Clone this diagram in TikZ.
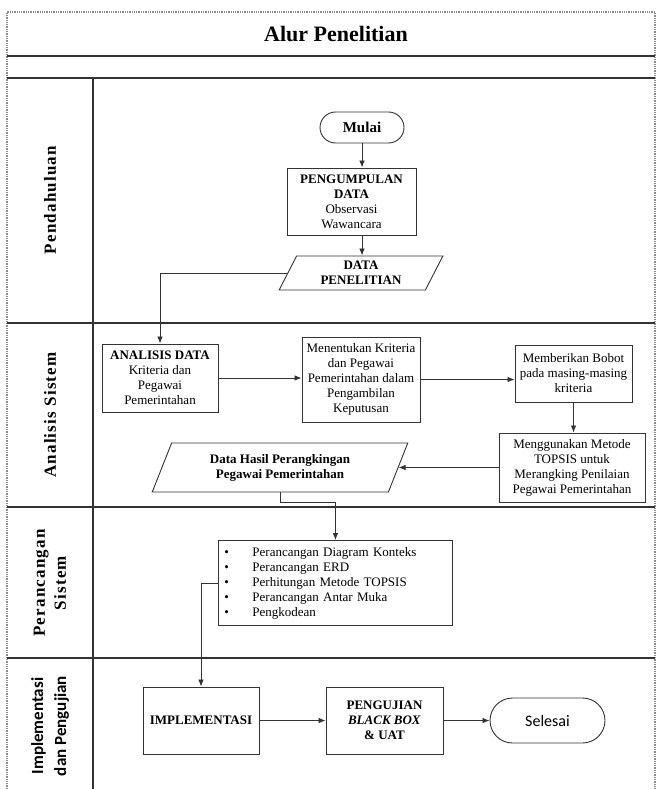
\documentclass[tikz,border=0pt]{standalone}
\usepackage{fontspec}
\setmainfont{Liberation Serif}
\newfontfamily\calfont{Carlito}
\newfontfamily\lanefont[LetterSpace=7]{Liberation Serif}
\usetikzlibrary{shapes.geometric,arrows.meta}
\newcommand\bodyfs{\fontsize{13}{15}\selectfont}
\begin{document}
\begin{tikzpicture}[x=1pt,y=-1pt,
  box/.style={draw=black!80, line width=0.9pt, align=center, inner sep=1pt, font=\bodyfs},
  para/.style={box, trapezium, trapezium left angle=65, trapezium right angle=115, trapezium stretches=true},
  term/.style={box},
  arr/.style={draw=black!80, line width=0.8pt, -{Latex[length=7pt,width=5.5pt]}},
  lane/.style={draw=black!80, line width=1.1pt},
  frame/.style={draw=black!45, line width=1.3pt, densely dotted},
  lanelabel/.style={rotate=90, align=center, font=\lanefont\bfseries\fontsize{17}{21}\selectfont},
]
\useasboundingbox (0,0) rectangle (657,789);
\fill[white] (0,0) rectangle (657,789);
% frame
\draw[frame] (7,789) -- (7,12) -- (655,12) -- (655,789);
\draw[lane] (7,56) -- (655,56);
\draw[lane] (7,78) -- (655,78);
\draw[lane] (93,78) -- (93,789);
\draw[lane] (7,323) -- (655,323);
\draw[lane] (7,507) -- (655,507);
\draw[lane] (7,658) -- (655,658);
% title
\node (title) at (336,34) {\fontsize{22}{26}\selectfont\bfseries Alur Penelitian};
% lane labels
\node[lanelabel] (l1) at (50,200) {Pendahuluan};
\node[lanelabel] (l2) at (50,415) {Analisis Sistem};
\node[lanelabel] (l3) at (50,583) {Perancangan\\Sistem};
\node[rotate=90, align=center, font=\calfont\bfseries\fontsize{17}{23}\selectfont] (l4) at (50,726) {Implementasi\\dan Pengujian};
% nodes
\node[term, rounded corners=15.5pt, minimum width=84pt, minimum height=31pt, font=\bfseries\fontsize{15}{18}\selectfont] (mulai) at (362,127.5) {Mulai};
\node[box, minimum width=129pt, minimum height=67pt] (peng) at (351.5,201.5) {\textbf{PENGUMPULAN}\\\textbf{DATA}\\Observasi\\Wawancara};
\node[para, minimum width=164pt, minimum height=34pt, inner sep=0pt, font=\bodyfs\bfseries] (dp) at (361,273) {DATA\\PENELITIAN};
\node[box, minimum width=116pt, minimum height=68pt] (an) at (160,378) {\textbf{ANALISIS DATA}\\Kriteria dan\\Pegawai\\Pemerintahan};
\node[box, minimum width=118pt, minimum height=85pt] (men) at (361,379.5) {Menentukan Kriteria\\dan Pegawai\\Pemerintahan dalam\\Pengambilan\\Keputusan};
\node[box, minimum width=117pt, minimum height=57pt, inner sep=0pt] (mem) at (573.5,373.5) {Memberikan Bobot\\pada masing-masing\\kriteria};
\node[box, minimum width=146pt, minimum height=69pt] (meng) at (572,467.5) {Menggunakan Metode\\TOPSIS untuk\\Merangking Penilaian\\Pegawai Pemerintahan};
\node[para, minimum width=256pt, minimum height=49pt, inner sep=0pt, font=\bodyfs\bfseries] (hasil) at (280,467.5) {Data Hasil Perangkingan\\Pegawai Pemerintahan};
\node[box, anchor=north west, minimum width=234pt, minimum height=85pt, text width=222pt, inner xsep=6pt, inner ysep=0pt, align=left] (bul) at (218,540) {%
\makebox[28pt][l]{\textbullet}Perancangan Diagram Konteks\\
\makebox[28pt][l]{\textbullet}Perancangan ERD\\
\makebox[28pt][l]{\textbullet}Perhitungan Metode TOPSIS\\
\makebox[28pt][l]{\textbullet}Perancangan Antar Muka\\
\makebox[28pt][l]{\textbullet}Pengkodean};
\node[box, minimum width=116pt, minimum height=67pt, font=\bodyfs\bfseries] (impl) at (201,720.5) {IMPLEMENTASI};
\node[box, minimum width=117pt, minimum height=67pt, font=\bodyfs\bfseries] (uji) at (384.5,720.5) {PENGUJIAN\\\textit{BLACK BOX}\\\& UAT};
\node[term, rounded corners=22.5pt, minimum width=115pt, minimum height=45pt, font=\calfont\fontsize{16}{19}\selectfont] (sel) at (547.5,720.5) {Selesai};
% connectors
\draw[arr] (mulai.south) -- (mulai.south |- peng.north);
\draw[arr] (mulai.south |- peng.south) -- (mulai.south |- dp.north);
\draw[arr] (dp.west) -| (an.north);
\draw[arr] (an.east) -- (an.east -| men.west);
\draw[arr] (men.east) -- (men.east -| mem.west);
\draw[arr] (mem.south) -- (mem.south |- meng.north);
\draw[arr] (meng.west |- hasil.east) -- (hasil.east);
\draw[arr] (hasil.south) -- ++(0,10) -| (bul.north);
\draw[arr] (bul.west) -| (impl.north);
\draw[arr] (impl.east) -- (uji.west);
\draw[arr] (uji.east) -- (sel.west);
\end{tikzpicture}
\end{document}
